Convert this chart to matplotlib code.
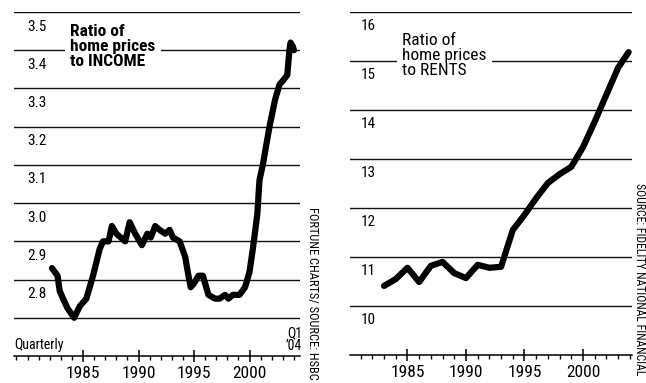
import matplotlib
matplotlib.use("Agg")
import matplotlib.pyplot as plt
from matplotlib.transforms import ScaledTranslation
from matplotlib.ticker import MultipleLocator

plt.rcParams["font.family"] = ["Roboto Condensed", "DejaVu Sans"]

# ---------------- data ----------------
income_years = [1982.2, 1982.7, 1982.9, 1983.2, 1983.6, 1984.2, 1984.7, 1985.3, 1985.9,
                1986.5, 1986.8, 1987.3, 1987.6, 1988.0, 1988.4, 1988.8, 1989.2, 1989.7,
                1990.3, 1990.8, 1991.1, 1991.5, 1991.9, 1992.4, 1992.8, 1993.1, 1993.7,
                1994.2, 1994.5, 1994.7, 1995.0, 1995.4, 1995.8, 1996.3, 1996.9, 1997.3,
                1997.8, 1998.1, 1998.5, 1999.1, 1999.6, 2000.0, 2000.3, 2000.7, 2000.9,
                2001.2, 2001.8, 2002.3, 2002.7, 2003.0, 2003.4, 2003.6, 2003.7, 2003.9, 2004.0]
income_ratio = [2.83, 2.81, 2.77, 2.75, 2.725, 2.70, 2.73, 2.75, 2.81,
                2.88, 2.90, 2.90, 2.94, 2.92, 2.91, 2.90, 2.95, 2.92,
                2.89, 2.92, 2.91, 2.94, 2.93, 2.92, 2.93, 2.91, 2.90,
                2.86, 2.81, 2.78, 2.79, 2.81, 2.81, 2.76, 2.75, 2.75,
                2.76, 2.75, 2.76, 2.76, 2.78, 2.82, 2.88, 2.97, 3.06,
                3.10, 3.20, 3.27, 3.31, 3.32, 3.335, 3.40, 3.42, 3.41, 3.40]

rent_years = [1983, 1984, 1985, 1986, 1987, 1988, 1989, 1990, 1991, 1992, 1993,
              1994, 1995, 1996, 1997, 1998, 1999, 2000, 2001, 2002, 2003, 2003.9]
rent_ratio = [10.41, 10.55, 10.78, 10.49, 10.82, 10.90, 10.67, 10.57, 10.84, 10.78, 10.80,
              11.55, 11.86, 12.20, 12.51, 12.69, 12.84, 13.24, 13.76, 14.31, 14.86, 15.18]

income_ticks = [2.7, 2.8, 2.9, 3.0, 3.1, 3.2, 3.3, 3.4, 3.5]
income_labels = ["", "2.8", "2.9", "3.0", "3.1", "3.2", "3.3", "3.4", "3.5"]
rent_ticks = [10, 11, 12, 13, 14, 15, 16]
rent_labels = ["10", "11", "12", "13", "14", "15", "16"]
year_ticks = [1985, 1990, 1995, 2000]
year_labels = ["1985", "1990", "1995", "2000"]

W, H = 646, 383
fig = plt.figure(figsize=(W / 100, H / 100), dpi=100)


def px_axes(x0, x1, ytop, ybot):
    return fig.add_axes([x0 / W, 1 - ybot / H, (x1 - x0) / W, (ybot - ytop) / H])


def style(ax, ticks, labels, ylim, xlim, label_dx):
    ax.set_xlim(*xlim)
    ax.set_ylim(*ylim)
    for s in ("top", "right", "left"):
        ax.spines[s].set_visible(False)
    ax.spines["bottom"].set_linewidth(1.1)
    ax.set_yticks(ticks)
    ax.set_yticklabels(labels)
    ax.tick_params(axis="y", length=0, pad=-label_dx, labelsize=11)
    for lab in ax.get_yticklabels():
        lab.set_horizontalalignment("left")
        lab.set_transform(lab.get_transform() + ScaledTranslation(0, -13 / 100, fig.dpi_scale_trans))
    ax.grid(axis="y", color="#111111", linewidth=1.0)
    ax.set_axisbelow(True)
    ax.set_xticks(year_ticks)
    ax.set_xticklabels(year_labels)
    ax.xaxis.set_minor_locator(MultipleLocator(1))
    ax.tick_params(axis="x", which="major", direction="inout", length=8, width=1.1,
                   labelsize=12.5, pad=3)
    ax.tick_params(axis="x", which="minor", direction="out", length=3, width=1.0)


# ---------------- left: income ----------------
axL = px_axes(14, 300, 12, 356)
style(axL, income_ticks, income_labels, (2.6, 3.5), (1978.78, 2004.55), 9.5)
axL.plot(income_years, income_ratio, color="black", linewidth=4.5,
         solid_capstyle="round", solid_joinstyle="round", zorder=3)
axL.text(0.196, 0.965, "Ratio of\nhome prices\nto INCOME", transform=axL.transAxes,
         ha="left", va="top", fontsize=12.5, fontweight="bold", linespacing=1.0,
         bbox=dict(facecolor="white", edgecolor="none", pad=4), zorder=2)
axL.text(0.0, 0.012, "Quarterly", transform=axL.transAxes, ha="left", va="bottom", fontsize=10)
axL.text(1.007, 0.008, "Q1\n\u201904", transform=axL.transAxes, ha="right", va="bottom",
         fontsize=10, linespacing=0.9)

fig.text(313 / W, 1 - 207 / H, "FORTUNE CHARTS/ SOURCE: HSBC", rotation=-90,
         ha="center", va="top", fontsize=8.9)

# ---------------- right: rents ----------------
axR = px_axes(350, 632, 12, 355)
style(axR, rent_ticks, rent_labels, (9, 16), (1980.09, 2004.19), 7.5)
axR.plot(rent_years, rent_ratio, color="black", linewidth=4.5,
         solid_capstyle="round", solid_joinstyle="round", zorder=3)
axR.text(0.185, 0.94, "Ratio of\nhome prices\nto RENTS", transform=axR.transAxes,
         ha="left", va="top", fontsize=12.5, linespacing=1.0,
         bbox=dict(facecolor="white", edgecolor="none", pad=4), zorder=2)

fig.text(640 / W, 1 - 183 / H, "SOURCE: FIDELITY NATIONAL FINANCIAL", rotation=-90,
         ha="center", va="top", fontsize=8.5)

fig.savefig("out.png", dpi=100)
